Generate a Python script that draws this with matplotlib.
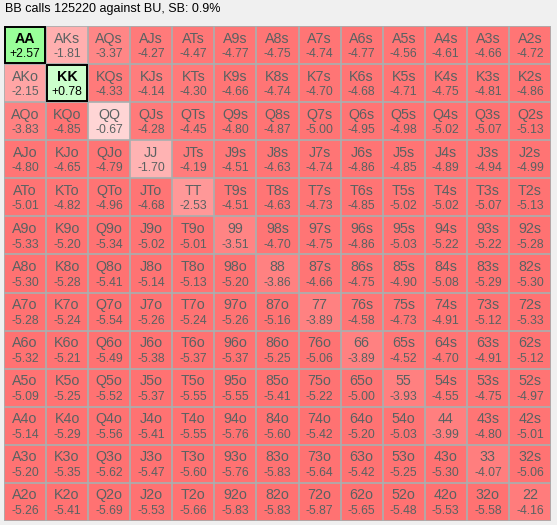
import numpy as np
import matplotlib
matplotlib.use("Agg")
import matplotlib.pyplot as plt
from matplotlib.patches import Rectangle

title = "BB calls 125220 against BU, SB: 0.9%"
ranks = ["A", "K", "Q", "J", "T", "9", "8", "7", "6", "5", "4", "3", "2"]

# EV (bb) per starting hand, one list per grid row
ev_A = [2.57, -1.81, -3.37, -4.27, -4.47, -4.77, -4.75, -4.74, -4.77, -4.56, -4.61, -4.66, -4.72]
ev_K = [-2.15, 0.78, -4.33, -4.14, -4.30, -4.66, -4.74, -4.70, -4.68, -4.71, -4.75, -4.81, -4.86]
ev_Q = [-3.83, -4.85, -0.67, -4.28, -4.45, -4.80, -4.87, -5.00, -4.95, -4.98, -5.02, -5.07, -5.13]
ev_J = [-4.80, -4.65, -4.79, -1.70, -4.19, -4.51, -4.63, -4.74, -4.86, -4.85, -4.89, -4.94, -4.99]
ev_T = [-5.01, -4.82, -4.96, -4.68, -2.53, -4.51, -4.63, -4.73, -4.85, -5.02, -5.02, -5.07, -5.13]
ev_9 = [-5.33, -5.20, -5.34, -5.02, -5.01, -3.51, -4.70, -4.75, -4.86, -5.03, -5.22, -5.22, -5.28]
ev_8 = [-5.30, -5.28, -5.41, -5.14, -5.13, -5.20, -3.86, -4.66, -4.75, -4.90, -5.08, -5.29, -5.30]
ev_7 = [-5.28, -5.24, -5.54, -5.26, -5.24, -5.26, -5.16, -3.89, -4.58, -4.73, -4.91, -5.12, -5.33]
ev_6 = [-5.32, -5.21, -5.49, -5.38, -5.37, -5.37, -5.25, -5.06, -3.89, -4.52, -4.70, -4.91, -5.12]
ev_5 = [-5.09, -5.25, -5.52, -5.37, -5.55, -5.55, -5.41, -5.22, -5.00, -3.93, -4.55, -4.75, -4.97]
ev_4 = [-5.14, -5.29, -5.56, -5.41, -5.55, -5.76, -5.60, -5.42, -5.20, -5.03, -3.99, -4.80, -5.01]
ev_3 = [-5.20, -5.35, -5.62, -5.47, -5.60, -5.76, -5.83, -5.64, -5.42, -5.25, -5.30, -4.07, -5.06]
ev_2 = [-5.26, -5.41, -5.69, -5.53, -5.66, -5.83, -5.83, -5.87, -5.65, -5.48, -5.53, -5.58, -4.16]

ev = np.array([ev_A, ev_K, ev_Q, ev_J, ev_T, ev_9, ev_8, ev_7, ev_6, ev_5, ev_4, ev_3, ev_2])
n = len(ranks)


def hand_name(i, j):
    if i == j:
        return ranks[i] + ranks[j]
    if j > i:
        return ranks[i] + ranks[j] + "s"
    return ranks[j] + ranks[i] + "o"


def cell_color(v):
    if v >= 0:
        c = np.interp(v, [0.0, 0.78, 2.57, 4.0], [235, 204, 153, 130]) / 255
        return (c, 1.0, c)
    c = np.interp(-v, [0.0, 0.67, 1.7, 2.15, 2.53, 3.4, 3.9, 4.2, 4.6, 5.5],
                  [255, 213, 179, 165, 152, 134, 129, 124, 118, 114]) / 255
    return (1.0, c, c)


W, H, DPI = 557, 525, 100
fig = plt.figure(figsize=(W / DPI, H / DPI), dpi=DPI, facecolor="#f0f0f0")
fig.text(5 / W, 1 - 9 / H, title, ha="left", va="center",
         fontsize=9, family="Liberation Sans", color="black")

left, right, top, bottom = 4, 551, 26, 521
ax = fig.add_axes([left / W, 1 - bottom / H, (right - left) / W, (bottom - top) / H])
ax.set_xlim(0, n)
ax.set_ylim(n, 0)
ax.axis("off")

rgb = np.array([[cell_color(ev[i, j]) for j in range(n)] for i in range(n)])
ax.imshow(rgb, extent=(0, n, n, 0), interpolation="nearest", aspect="auto")

grid_color = "#a7b0b0"
for k in range(n + 1):
    ax.axhline(k, color=grid_color, lw=1.2, zorder=2)
    ax.axvline(k, color=grid_color, lw=1.2, zorder=2)

for i in range(n):
    for j in range(n):
        v = ev[i, j]
        positive = v > 0
        txt_color = "black" if positive else "#5a6262"
        weight = "bold" if positive else "normal"
        ax.text(j + 0.5, i + 0.33, hand_name(i, j), ha="center", va="center",
                fontsize=10.3, color=txt_color, weight=weight,
                family="Liberation Sans", zorder=4)
        ax.text(j + 0.5, i + 0.74, f"{v:+.2f}" if positive else f"{v:.2f}",
                ha="center", va="center", fontsize=8.8, color=txt_color,
                family="Liberation Sans", zorder=4)
        if positive:
            ax.add_patch(Rectangle((j + 0.02, i + 0.02), 0.96, 0.96, fill=False,
                                   edgecolor="black", lw=1.4, zorder=3))

fig.savefig("out.png", dpi=DPI, facecolor=fig.get_facecolor())
